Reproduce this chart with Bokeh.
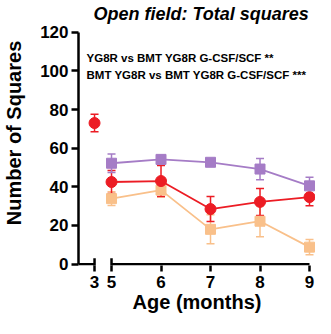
from bokeh.plotting import figure
from bokeh.models import (Range1d, ColumnDataSource, Whisker, TeeHead, FixedTicker,
                          Label, LinearAxis)
from bokeh.embed import file_html
from bokeh.resources import INLINE

# ---------------- data ----------------
months = [5, 6, 7, 8, 9]
baseline_month = [3]
red_baseline_mean = [73.0]
red_baseline_sem = [4.5]
red_mean = [42.5, 43.0, 28.5, 32.2, 34.7]
red_sem = [6.0, 8.0, 6.5, 7.0, 4.5]
purple_mean = [52.2, 54.2, 52.7, 49.2, 40.5]
purple_sem = [4.8, 2.2, 1.0, 5.5, 4.5]
orange_mean = [33.9, 38.3, 18.0, 22.2, 8.8]
orange_sem = [3.5, 3.5, 7.5, 8.0, 4.0]
tick_months = [3, 5, 6, 7, 8, 9]
tick_labels = ["3", "5", "6", "7", "8", "9"]
y_ticks = [0, 20, 40, 60, 80, 100, 120]
title_text = "Open field: Total squares"
x_label = "Age (months)"
y_label = "Number of Squares"
stat_lines = ["YG8R vs BMT YG8R G-CSF/SCF **",
              "BMT YG8R vs BMT YG8R G-CSF/SCF  ***"]

# axis break: month 3 is drawn just left of month 5
BREAK_GAP = 0.343


def xpos(m):
    return m if m >= 5 else 5 - BREAK_GAP + (m - 3)


RED = "#EC1C24"
PURPLE = "#A57CC6"
ORANGE = "#F9C08A"
FONT = "Liberation Sans"

X0, X1 = 4.333, 9.121
Y0, Y1 = -0.7, 136.4
p = figure(width=315, height=318, output_backend="svg", toolbar_location=None,
           x_range=Range1d(X0, X1), y_range=Range1d(Y0, Y1),
           min_border_left=78, min_border_right=0, min_border_top=0,
           min_border_bottom=53, x_axis_location=None, y_axis_location=None)
p.outline_line_color = None
p.xgrid.visible = False
p.ygrid.visible = False
p.background_fill_color = "white"


def series(ms, mean, sem, color):
    src = ColumnDataSource(dict(
        x=[xpos(m) for m in ms], y=mean,
        lo=[a - b for a, b in zip(mean, sem)],
        hi=[a + b for a, b in zip(mean, sem)]))
    w = Whisker(source=src, base="x", upper="hi", lower="lo",
                line_color=color, line_width=1.5,
                upper_head=TeeHead(size=8, line_color=color, line_width=1.5),
                lower_head=TeeHead(size=8, line_color=color, line_width=1.5))
    p.add_layout(w)
    return src


s_or = series(months, orange_mean, orange_sem, ORANGE)
s_red = series(months, red_mean, red_sem, RED)
s_base = series(baseline_month, red_baseline_mean, red_baseline_sem, RED)
s_pu = series(months, purple_mean, purple_sem, PURPLE)

p.line("x", "y", source=s_or, line_color=ORANGE, line_width=1.8)
p.scatter("x", "y", source=s_or, marker="square", size=10, color=ORANGE)
p.line("x", "y", source=s_red, line_color=RED, line_width=1.8)
p.scatter("x", "y", source=s_red, marker="circle", size=11, color=RED)
p.scatter("x", "y", source=s_base, marker="circle", size=11, color=RED)
p.line("x", "y", source=s_pu, line_color=PURPLE, line_width=1.8)
p.scatter("x", "y", source=s_pu, marker="square", size=10, color=PURPLE)

# broken x axis line
p.segment(x0=[X0, 5], y0=[0, 0], x1=[xpos(3), 9], y1=[0, 0],
          line_color="black", line_width=2.5)
p.scatter(x=[xpos(3), 5], y=[0, 0], marker="dash", angle=1.5708, size=12,
          line_color="black", line_width=2.5)

# y axis
yax = LinearAxis(bounds=(0, 120), ticker=FixedTicker(ticks=y_ticks),
                 axis_label=y_label)
yax.axis_line_width = 2.5
yax.major_tick_line_width = 2.5
yax.major_tick_out = 7
yax.major_tick_in = 0
yax.minor_tick_line_color = None
yax.major_label_standoff = 3
yax.major_label_text_font = FONT
yax.major_label_text_font_style = "bold"
yax.major_label_text_font_size = "17px"
yax.major_label_text_color = "black"
yax.axis_label_text_font = FONT
yax.axis_label_text_font_style = "bold"
yax.axis_label_text_font_size = "20px"
yax.axis_label_text_color = "black"
yax.axis_label_standoff = 12
p.add_layout(yax, "left")

# x axis (line drawn above as a broken line)
xt = [xpos(m) for m in tick_months]
xax = LinearAxis(ticker=FixedTicker(ticks=xt), axis_label=x_label,
                 major_label_overrides={t: l for t, l in zip(xt, tick_labels)})
xax.axis_line_color = None
xax.major_tick_line_width = 2.5
xax.major_tick_out = 6
xax.major_tick_in = 0
xax.minor_tick_line_color = None
xax.major_label_standoff = 4
xax.major_label_text_font = FONT
xax.major_label_text_font_style = "bold"
xax.major_label_text_font_size = "17px"
xax.major_label_text_color = "black"
xax.axis_label_text_font = FONT
xax.axis_label_text_font_style = "bold"
xax.axis_label_text_font_size = "20px"
xax.axis_label_text_color = "black"
xax.axis_label_standoff = 0
p.add_layout(xax, "below")

p.add_layout(Label(x=4.636, y=129.2, text=title_text, text_font=FONT,
                   text_font_style="bold italic", text_font_size="18px",
                   text_baseline="middle", text_align="left", text_color="black"))
for txt, yy in zip(stat_lines, [106.4, 97.8]):
    p.add_layout(Label(x=4.495, y=yy, text=txt, text_font=FONT,
                       text_font_style="bold", text_font_size="11.5px",
                       text_baseline="middle", text_align="left", text_color="black"))

open("out.html", "w").write(file_html(p, INLINE))
